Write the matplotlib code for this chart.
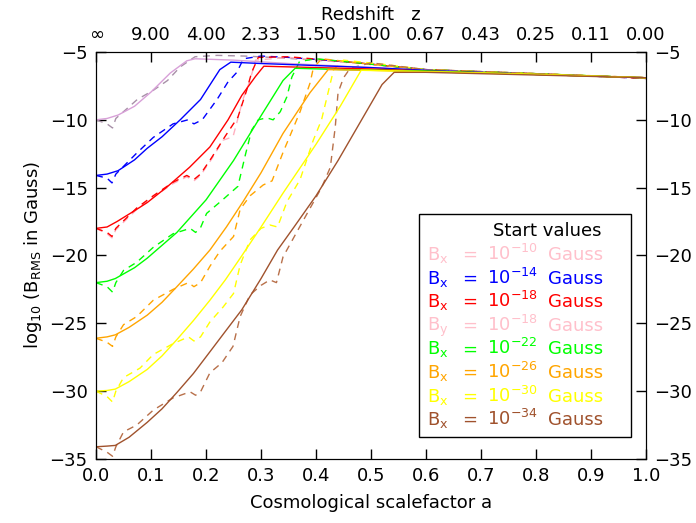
import matplotlib
matplotlib.use("Agg")
import matplotlib.pyplot as plt
from matplotlib.patches import Rectangle

plt.rcParams['font.family'] = ['DejaVu Sans']
plt.rcParams['mathtext.default'] = 'regular'
plt.rcParams['font.size'] = 13

# ---- solid curves (scalefactor a, log10 B) ----
a_plum = [0, 0.02, 0.04, 0.07, 0.10, 0.135, 0.165, 0.18, 0.25, 0.35, 0.45, 0.6, 0.8, 1.0]
v_plum = [-10.0, -9.9, -9.65, -9.0, -7.95, -6.55, -5.65, -5.5, -5.6, -5.85, -6.05, -6.35, -6.65, -6.9]

a_blue = [0, 0.02, 0.04, 0.07, 0.093, 0.12, 0.153, 0.19, 0.225, 0.245, 0.3, 0.4, 0.5, 0.6, 0.8, 1.0]
v_blue = [-14.1, -14.0, -13.75, -12.95, -12.1, -11.25, -10.0, -8.5, -6.3, -5.75, -5.85, -6.0, -6.15, -6.35, -6.65, -6.9]

a_red = [0, 0.02, 0.038, 0.07, 0.093, 0.129, 0.17, 0.207, 0.24, 0.265, 0.29, 0.305, 0.4, 0.5, 0.6, 0.8, 1.0]
v_red = [-18.0, -17.9, -17.5, -16.7, -16.1, -14.95, -13.5, -12.0, -10.0, -8.2, -6.8, -6.05, -6.15, -6.25, -6.4, -6.65, -6.9]

a_green = [0, 0.02, 0.035, 0.07, 0.093, 0.147, 0.2, 0.25, 0.3, 0.34, 0.362, 0.45, 0.6, 0.8, 1.0]
v_green = [-22.0, -21.9, -21.7, -20.9, -20.2, -18.3, -15.9, -13.0, -9.7, -7.1, -6.2, -6.3, -6.4, -6.65, -6.9]

a_orange = [0, 0.02, 0.035, 0.06, 0.093, 0.12, 0.147, 0.177, 0.207, 0.237, 0.267, 0.3, 0.34, 0.389, 0.422, 0.5, 0.6, 0.8, 1.0]
v_orange = [-26.1, -26.0, -25.85, -25.3, -24.4, -23.45, -22.3, -21.0, -19.6, -17.9, -16.05, -13.9, -11.0, -8.0, -6.3, -6.35, -6.45, -6.65, -6.9]

a_yellow = [0, 0.02, 0.035, 0.06, 0.093, 0.12, 0.147, 0.177, 0.207, 0.235, 0.262, 0.3, 0.34, 0.4, 0.444, 0.482, 0.6, 0.8, 1.0]
v_yellow = [-30.0, -29.95, -29.85, -29.3, -28.4, -27.4, -26.2, -24.8, -23.3, -21.8, -20.2, -17.9, -15.4, -11.8, -9.0, -6.35, -6.45, -6.65, -6.9]

a_brown = [0, 0.02, 0.035, 0.06, 0.093, 0.12, 0.147, 0.177, 0.207, 0.235, 0.265, 0.3, 0.33, 0.36, 0.4, 0.44, 0.48, 0.52, 0.542, 0.6, 0.8, 1.0]
v_brown = [-34.1, -34.05, -34.0, -33.4, -32.3, -31.3, -30.1, -28.7, -27.1, -25.6, -24.0, -21.7, -19.6, -17.9, -15.6, -13.0, -10.2, -7.4, -6.5, -6.5, -6.7, -6.9]

# ---- dashed curves ----
ad_plum = [0, 0.02, 0.03, 0.036, 0.075, 0.105, 0.13, 0.153, 0.18, 0.22, 0.27, 0.32, 0.4, 0.5, 0.6, 0.8, 1.0]
vd_plum = [-10.0, -10.3, -10.6, -9.9, -8.5, -7.8, -7.1, -6.1, -5.35, -5.25, -5.3, -5.4, -5.6, -5.9, -6.3, -6.6, -6.9]

ad_blue = [0, 0.02, 0.029, 0.036, 0.074, 0.104, 0.14, 0.167, 0.178, 0.193, 0.22, 0.24, 0.256, 0.268, 0.3, 0.35, 0.45, 0.6, 0.8, 1.0]
vd_blue = [-14.1, -14.3, -14.65, -14.0, -12.45, -11.3, -10.3, -10.0, -10.3, -10.0, -8.5, -7.2, -6.5, -5.5, -5.3, -5.4, -5.7, -6.3, -6.6, -6.95]

ad_red = [0, 0.02, 0.029, 0.036, 0.074, 0.104, 0.14, 0.165, 0.178, 0.19, 0.21, 0.235, 0.258, 0.274, 0.283, 0.295, 0.35, 0.45, 0.6, 0.8, 1.0]
vd_red = [-18.0, -18.3, -18.6, -18.0, -16.5, -15.6, -14.6, -14.1, -14.4, -14.0, -12.8, -11.2, -9.8, -7.8, -6.5, -5.4, -5.35, -5.7, -6.3, -6.6, -6.95]

ad_pinky = [0, 0.02, 0.029, 0.036, 0.074, 0.104, 0.14, 0.165, 0.178, 0.19, 0.21, 0.231, 0.249, 0.256, 0.267, 0.28, 0.29, 0.35, 0.45, 0.6, 0.8, 1.0]
vd_pinky = [-18.0, -18.4, -18.7, -18.1, -16.6, -15.7, -14.7, -14.2, -14.5, -14.1, -12.9, -11.5, -11.25, -10.2, -8.5, -7.1, -5.6, -5.4, -5.75, -6.3, -6.6, -6.9]

ad_green = [0, 0.02, 0.03, 0.036, 0.05, 0.074, 0.104, 0.14, 0.171, 0.181, 0.19, 0.201, 0.23, 0.258, 0.272, 0.283, 0.295, 0.31, 0.322, 0.335, 0.347, 0.356, 0.37, 0.4, 0.5, 0.6, 0.8, 1.0]
vd_green = [-22.0, -22.3, -22.7, -22.0, -21.1, -20.5, -19.4, -18.4, -18.0, -18.3, -17.95, -16.9, -15.9, -14.9, -12.5, -10.75, -10.0, -9.85, -10.0, -9.4, -8.3, -6.85, -5.7, -5.5, -5.9, -6.3, -6.6, -6.9]

ad_orange = [0, 0.02, 0.03, 0.036, 0.05, 0.074, 0.104, 0.14, 0.168, 0.178, 0.19, 0.207, 0.225, 0.25, 0.262, 0.28, 0.304, 0.32, 0.34, 0.371, 0.389, 0.395, 0.41, 0.5, 0.6, 0.8, 1.0]
vd_orange = [-26.1, -26.4, -26.7, -26.0, -25.1, -24.5, -23.3, -22.5, -22.0, -22.3, -22.0, -20.8, -19.7, -18.6, -16.6, -15.6, -14.8, -14.5, -12.4, -9.4, -7.3, -6.2, -5.5, -5.9, -6.3, -6.6, -6.9]

ad_yellow = [0, 0.02, 0.03, 0.036, 0.05, 0.08, 0.104, 0.14, 0.168, 0.178, 0.19, 0.207, 0.231, 0.25, 0.262, 0.28, 0.3, 0.316, 0.33, 0.347, 0.371, 0.395, 0.41, 0.426, 0.432, 0.45, 0.52, 0.6, 0.8, 1.0]
vd_yellow = [-30.0, -30.4, -30.8, -30.0, -29.0, -28.3, -27.3, -26.5, -26.0, -26.3, -26.0, -24.9, -23.8, -22.8, -20.7, -18.85, -18.0, -17.75, -17.9, -16.05, -14.4, -11.5, -10.0, -7.3, -6.3, -5.6, -5.9, -6.3, -6.6, -6.9]

ad_brown = [0, 0.02, 0.03, 0.036, 0.05, 0.074, 0.104, 0.14, 0.171, 0.181, 0.19, 0.207, 0.229, 0.249, 0.262, 0.28, 0.3, 0.316, 0.328, 0.34, 0.377, 0.41, 0.426, 0.435, 0.44, 0.45, 0.462, 0.5, 0.6, 0.8, 1.0]
vd_brown = [-34.1, -34.5, -34.8, -34.1, -33.0, -32.5, -31.4, -30.5, -30.05, -30.3, -30.05, -28.65, -27.9, -26.7, -24.5, -22.9, -22.2, -21.8, -22.0, -20.1, -17.4, -15.0, -13.5, -10.5, -8.0, -6.9, -6.2, -5.8, -6.3, -6.6, -6.9]

# ---- legend / axes text ----
legend_comp = ['x', 'x', 'x', 'y', 'x', 'x', 'x', 'x']
legend_exp = ['-10', '-14', '-18', '-18', '-22', '-26', '-30', '-34']
legend_col = ['#FFC0CB', '#0000FF', '#FF0000', '#FFC0CB', '#00FF00', '#FFA500', '#FFFF00', '#A0522D']
a_ticks = [0.0, 0.1, 0.2, 0.3, 0.4, 0.5, 0.6, 0.7, 0.8, 0.9, 1.0]
z_labels = ['\u221e', '9.00', '4.00', '2.33', '1.50', '1.00', '0.67', '0.43', '0.25', '0.11', '0.00']
y_ticks = [-35, -30, -25, -20, -15, -10, -5]

fig = plt.figure(figsize=(6.96, 5.23), dpi=100)
ax = fig.add_axes([0.138, 0.1224, 0.7902, 0.7782])

dash = (5, 4)
lw = 1.0
# dashed first, solid on top
ax.plot(ad_plum, vd_plum, color='#A890A8', lw=lw, dashes=dash)
ax.plot(ad_blue, vd_blue, color='#0000FF', lw=lw, dashes=dash)
ax.plot(ad_pinky, vd_pinky, color='#FFB0C0', lw=lw, dashes=dash)
ax.plot(ad_red, vd_red, color='#FF0000', lw=lw, dashes=dash)
ax.plot(ad_green, vd_green, color='#00FF00', lw=lw, dashes=dash)
ax.plot(ad_orange, vd_orange, color='#FFA500', lw=lw, dashes=dash)
ax.plot(ad_yellow, vd_yellow, color='#FFFF00', lw=lw, dashes=dash)
ax.plot(ad_brown, vd_brown, color='#B8704A', lw=lw, dashes=dash)

ax.plot(a_plum, v_plum, color='#D8A0D8', lw=lw)
ax.plot(a_blue, v_blue, color='#0000FF', lw=lw)
ax.plot(a_red, v_red, color='#FF0000', lw=lw)
ax.plot(a_green, v_green, color='#00FF00', lw=lw)
ax.plot(a_orange, v_orange, color='#FFA500', lw=lw)
ax.plot(a_yellow, v_yellow, color='#FFFF00', lw=lw)
ax.plot(a_brown, v_brown, color='#A0522D', lw=lw)

ax.set_xlim(0, 1)
ax.set_ylim(-35, -5)
ax.set_xticks(a_ticks)
ax.set_xticklabels(['%.1f' % t for t in a_ticks])
ax.set_yticks(y_ticks)
ax.tick_params(direction='in', length=7, width=1, right=True, labelright=True, pad=6)
ax.set_xlabel('Cosmological scalefactor a', labelpad=6)
ax.set_ylabel('log$_{10}$ (B$_{RMS}$ in Gauss)', labelpad=4)

top = ax.twiny()
top.set_xlim(0, 1)
top.set_xticks(a_ticks)
top.set_xticklabels(z_labels)
top.tick_params(direction='in', length=7, width=1, pad=6)
top.set_xlabel('Redshift   z', labelpad=4)

# legend box
ax.add_patch(Rectangle((0.587, 0.054), 0.386, 0.548, transform=ax.transAxes,
                       facecolor='white', edgecolor='black', lw=1, zorder=5))
ax.text(0.82, (459 - 231) / 407, 'Start values', transform=ax.transAxes,
        ha='center', va='center', color='black', zorder=6)
for i in range(len(legend_exp)):
    y = (459 - (260 + 23.6 * i)) / 407
    c = legend_col[i]
    ax.text(0.602, y, 'B$_%s$' % legend_comp[i], transform=ax.transAxes, color=c, va='baseline', zorder=6)
    ax.text(0.68, y, '=', transform=ax.transAxes, color=c, va='baseline', ha='center', zorder=6)
    ax.text(0.711, y, '10$^{%s}$' % legend_exp[i].replace('-', '\u2212'), transform=ax.transAxes, color=c, va='baseline', zorder=6)
    ax.text(0.822, y, 'Gauss', transform=ax.transAxes, color=c, va='baseline', zorder=6)

fig.savefig('out.png', dpi=100)
